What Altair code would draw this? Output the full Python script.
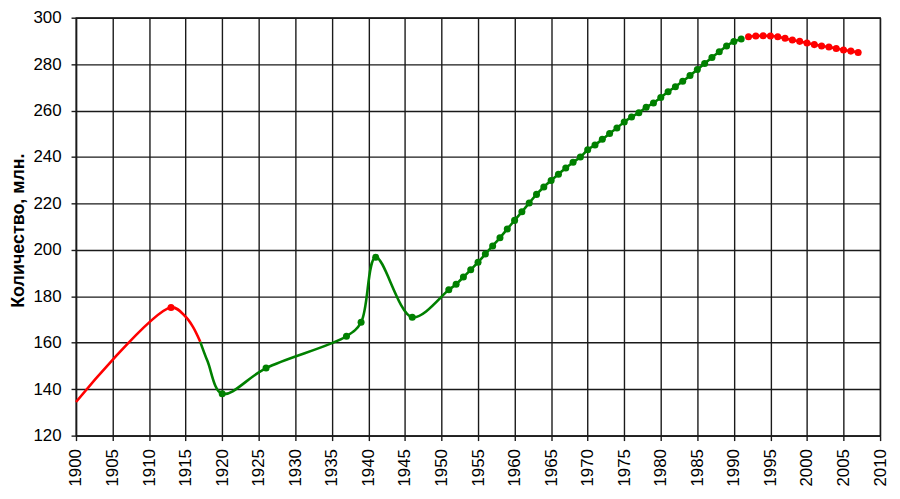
import altair as alt
import pandas as pd

# ---- data ----
early_years = [1900, 1913, 1915, 1916, 1917]
early_vals = [134.5, 175.2, 171.2, 166.8, 160.4]
early_marked = [False, True, False, False, False]

mid_years = [1917, 1918, 1920, 1926, 1937, 1939, 1941, 1946,
             1951, 1952, 1953, 1954, 1955, 1956, 1957, 1958, 1959, 1960,
             1961, 1962, 1963, 1964, 1965, 1966, 1967, 1968, 1969, 1970,
             1971, 1972, 1973, 1974, 1975, 1976, 1977, 1978, 1979, 1980,
             1981, 1982, 1983, 1984, 1985, 1986, 1987, 1988, 1989, 1990, 1991]
mid_vals = [160.4, 152.0, 138.0, 149.1, 162.8, 168.8, 196.8, 171.0,
            182.8, 185.2, 188.3, 191.4, 194.7, 198.2, 201.7, 205.2, 209.0, 212.7,
            216.4, 220.2, 223.9, 227.1, 229.9, 232.6, 235.3, 237.7, 240.0, 243.1,
            245.2, 247.6, 250.1, 252.5, 255.1, 257.2, 259.1, 261.4, 263.3, 265.6,
            268.1, 270.3, 272.6, 275.1, 277.7, 280.3, 282.9, 285.3, 287.8, 289.7, 290.8]
mid_marked = [False, False] + [True] * (len(mid_years) - 2)

late_years = [1992, 1993, 1994, 1995, 1996, 1997, 1998, 1999, 2000,
              2001, 2002, 2003, 2004, 2005, 2006, 2007]
late_vals = [291.8, 292.1, 292.2, 292.1, 291.8, 291.1, 290.4, 289.8, 289.1,
             288.4, 287.8, 287.4, 286.7, 286.1, 285.6, 285.0]
late_marked = [True] * len(late_years)

x_ticks = [1900, 1905, 1910, 1915, 1920, 1925, 1930, 1935, 1940, 1945, 1950,
           1955, 1960, 1965, 1970, 1975, 1980, 1985, 1990, 1995, 2000, 2005, 2010]
y_ticks = [120, 140, 160, 180, 200, 220, 240, 260, 280, 300]
y_title = "Количество, млн."

RED = "#ff0000"
GREEN = "#008000"
GRID = "#1a1a1a"
FONT = "Liberation Sans"

def frame(years, vals, marked, seg):
    return pd.DataFrame({"year": years, "value": vals, "marked": marked, "seg": seg})

df = pd.concat([
    frame(early_years, early_vals, early_marked, "early"),
    frame(mid_years, mid_vals, mid_marked, "mid"),
    frame(late_years, late_vals, late_marked, "late"),
], ignore_index=True)

x = alt.X("year:Q",
          scale=alt.Scale(domain=[1900, 2010], nice=False, zero=False),
          axis=alt.Axis(values=x_ticks, format="d", labelAngle=-90, title=None,
                        tickSize=5, labelPadding=8, labelFlush=False,
                        labelOverlap=False))
y = alt.Y("value:Q",
          scale=alt.Scale(domain=[120, 300], nice=False, zero=False),
          axis=alt.Axis(values=y_ticks, format="d", title=y_title,
                        tickSize=5, labelPadding=10, titlePadding=6,
                        titleFontWeight="bold", titleFontSize=18,
                        titleY=214, labelFlush=False))

base = alt.Chart(df)

def seg_line(seg, color):
    return base.transform_filter(alt.datum.seg == seg).mark_line(
        color=color, strokeWidth=2.6, interpolate="catmull-rom"
    ).encode(x=x, y=y)

def seg_points(seg, color):
    return base.transform_filter(
        (alt.datum.seg == seg) & alt.datum.marked
    ).mark_circle(color=color, size=50, opacity=1).encode(x=x, y=y)

chart = alt.layer(
    seg_line("early", RED),
    seg_line("mid", GREEN),
    seg_line("late", RED),
    seg_points("early", RED),
    seg_points("mid", GREEN),
    seg_points("late", RED),
).properties(
    width=810, height=421,
    background="white",
    autosize=alt.AutoSizeParams(type="none"),
    padding={"left": 68.5, "top": 8, "right": 12, "bottom": 50},
).configure_view(
    stroke=GRID, strokeWidth=1.3
).configure_axis(
    grid=True, gridColor=GRID, gridWidth=1.4, gridOpacity=1,
    domainColor=GRID, domainWidth=1.4, tickColor=GRID, tickWidth=1.4,
    labelFont=FONT, labelFontSize=17, labelColor="#000000",
    titleFont=FONT, titleColor="#000000",
)

chart.save("out.html", embed_options={"renderer": "svg", "actions": False})
